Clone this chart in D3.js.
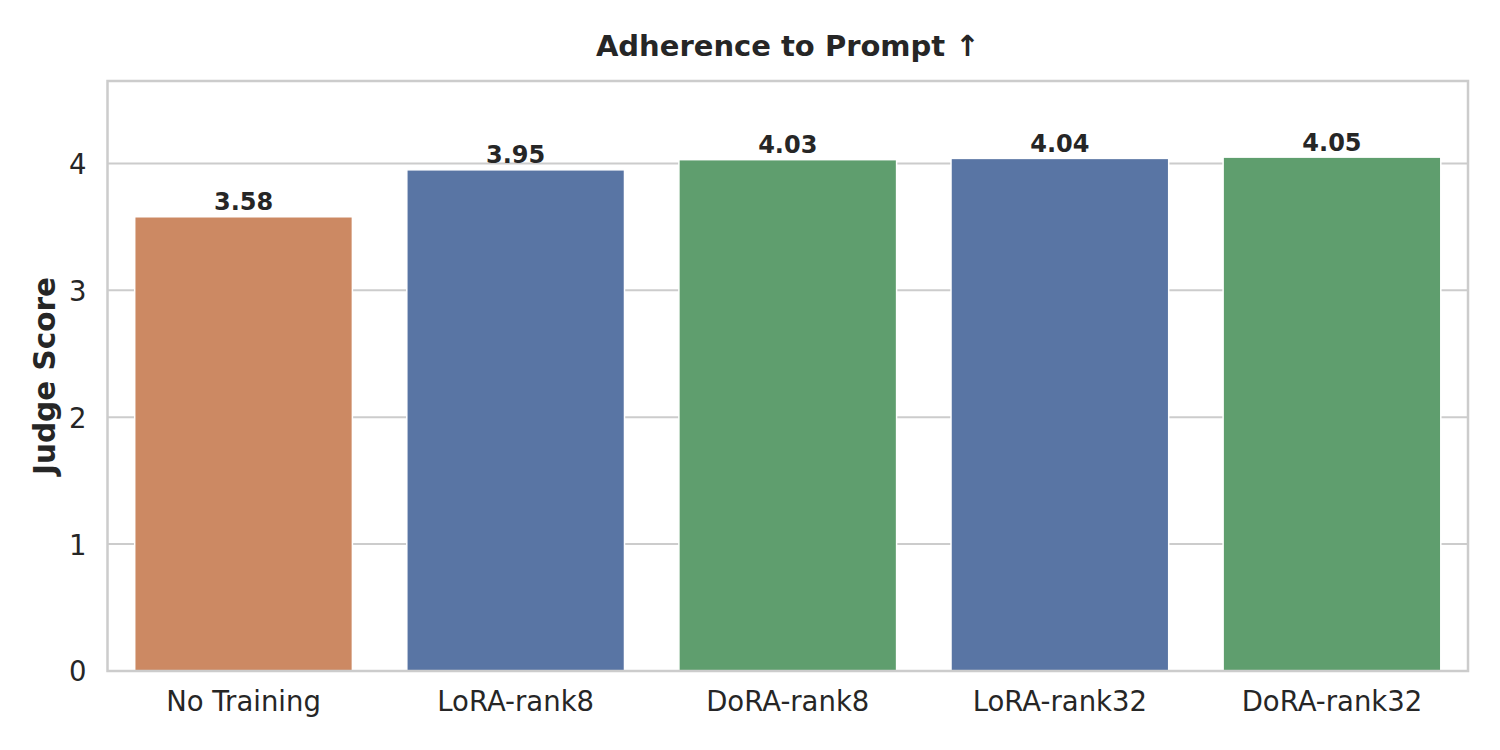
<!DOCTYPE html>
<html><head><meta charset="utf-8">
<script src="https://cdn.jsdelivr.net/npm/d3@7"></script>
<style>body{margin:0;background:#fff;} text{font-family:"DejaVu Sans",sans-serif;fill:#262626;}</style>
</head><body>
<svg id="c" width="1500" height="750"></svg>
<script>
const categories = ["No Training","LoRA-rank8","DoRA-rank8","LoRA-rank32","DoRA-rank32"];
const scores = [3.58, 3.95, 4.03, 4.04, 4.05];
const barColors = ["#CC8963","#5975A4","#5F9E6E","#5975A4","#5F9E6E"];
const yTicks = [0,1,2,3,4];
const title = "Adherence to Prompt ↑";
const yLabel = "Judge Score";

const L=107.5, R=1468, T=81, B=671;
const svg=d3.select("#c");
const x=d3.scaleBand().domain(categories).range([L,R]).paddingInner(0.2).paddingOuter(0.1);
const y=d3.scaleLinear().domain([0,4.65]).range([B,T]);

// grid
svg.append("g").selectAll("line").data(yTicks.filter(d=>d>0)).join("line")
  .attr("x1",L).attr("x2",R).attr("y1",d=>y(d)).attr("y2",d=>y(d))
  .attr("stroke","#cccccc").attr("stroke-width",2);

// bars
svg.append("g").selectAll("rect").data(categories).join("rect")
  .attr("x",d=>x(d)).attr("width",x.bandwidth())
  .attr("y",(d,i)=>y(scores[i])).attr("height",(d,i)=>B-y(scores[i]))
  .attr("fill",(d,i)=>barColors[i]).attr("stroke","#fff").attr("stroke-width",1.5);

// value labels
svg.append("g").selectAll("text").data(categories).join("text")
  .attr("x",d=>x(d)+x.bandwidth()/2).attr("y",(d,i)=>y(scores[i])-6.5)
  .attr("text-anchor","middle").attr("font-weight","bold").attr("font-size",24)
  .text((d,i)=>scores[i].toFixed(2));

// frame
svg.append("rect").attr("x",L).attr("y",T).attr("width",R-L).attr("height",B-T)
  .attr("fill","none").attr("stroke","#cccccc").attr("stroke-width",2.5);

// axes
const ya=svg.append("g").attr("transform",`translate(${L},0)`).call(d3.axisLeft(y).tickValues(yTicks).tickFormat(d3.format("d")).tickSize(0).tickPadding(21));
ya.select(".domain").remove();
ya.selectAll("text").attr("font-size",27.5).attr("fill","#262626").attr("dy","0.36em").style("font-family","DejaVu Sans");
const xa=svg.append("g").attr("transform",`translate(0,${B})`).call(d3.axisBottom(x).tickSize(0).tickPadding(20));
xa.select(".domain").remove();
xa.selectAll("text").attr("font-size",27.5).attr("fill","#262626").style("font-family","DejaVu Sans");

svg.append("text").attr("x",(L+R)/2).attr("y",56).attr("text-anchor","middle")
  .attr("font-weight","bold").attr("font-size",29).text(title);
svg.append("text").attr("transform",`translate(55,${(T+B)/2}) rotate(-90)`).attr("text-anchor","middle")
  .attr("font-weight","bold").attr("font-size",29.5).text(yLabel);
</script>
</body></html>
